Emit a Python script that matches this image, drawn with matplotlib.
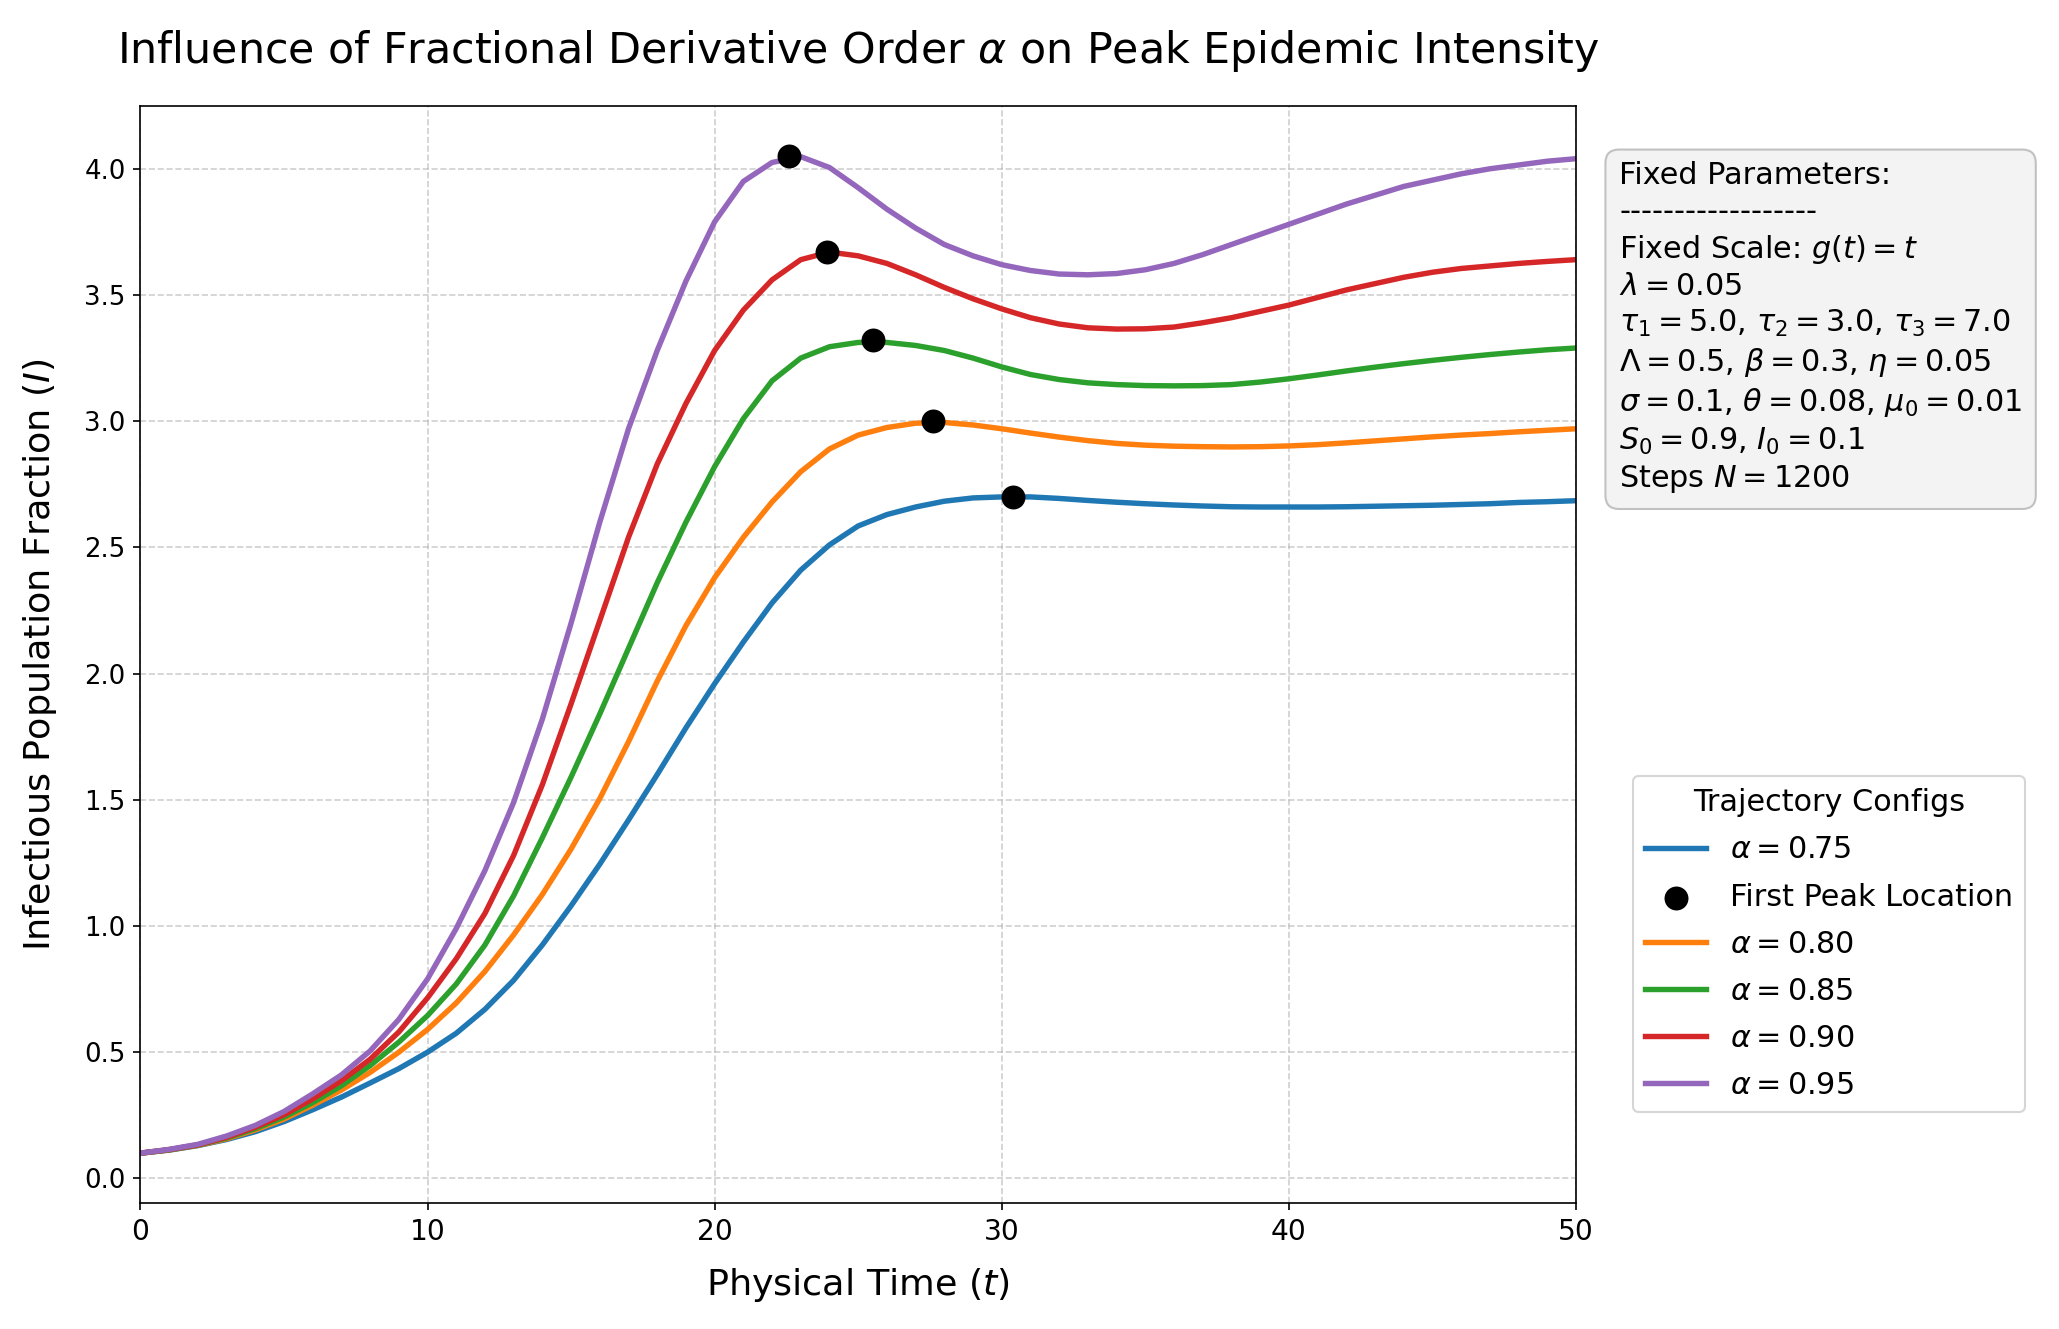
import numpy as np
import matplotlib
matplotlib.use("Agg")
import matplotlib.pyplot as plt

# Physical time grid (t = 0..50)
t = np.arange(0, 51)

alphas = [0.75, 0.80, 0.85, 0.90, 0.95]

I_075 = [0.100, 0.112, 0.130, 0.154, 0.185, 0.225, 0.272, 0.322, 0.378, 0.435,
         0.500, 0.575, 0.670, 0.785, 0.925, 1.080, 1.245, 1.420, 1.600, 1.785,
         1.960, 2.125, 2.280, 2.410, 2.510, 2.585, 2.630, 2.660, 2.683, 2.696,
         2.700, 2.700, 2.694, 2.686, 2.679, 2.673, 2.668, 2.664, 2.661, 2.660,
         2.660, 2.660, 2.661, 2.663, 2.665, 2.667, 2.670, 2.673, 2.678, 2.681,
         2.685]
I_080 = [0.100, 0.113, 0.131, 0.157, 0.192, 0.235, 0.290, 0.350, 0.420, 0.500,
         0.590, 0.695, 0.820, 0.965, 1.125, 1.305, 1.505, 1.730, 1.970, 2.190,
         2.380, 2.540, 2.680, 2.800, 2.890, 2.945, 2.975, 2.992, 2.995, 2.985,
         2.970, 2.953, 2.937, 2.923, 2.912, 2.905, 2.901, 2.899, 2.898, 2.899,
         2.902, 2.907, 2.914, 2.922, 2.930, 2.938, 2.945, 2.951, 2.958, 2.964,
         2.970]
I_085 = [0.100, 0.113, 0.132, 0.160, 0.197, 0.243, 0.300, 0.367, 0.447, 0.540,
         0.645, 0.770, 0.925, 1.120, 1.350, 1.590, 1.840, 2.100, 2.360, 2.600,
         2.820, 3.010, 3.160, 3.250, 3.295, 3.312, 3.312, 3.300, 3.280, 3.250,
         3.215, 3.185, 3.165, 3.152, 3.145, 3.141, 3.140, 3.141, 3.145, 3.155,
         3.168, 3.183, 3.199, 3.214, 3.228, 3.241, 3.253, 3.264, 3.274, 3.283,
         3.290]
I_090 = [0.100, 0.114, 0.133, 0.163, 0.203, 0.252, 0.315, 0.387, 0.472, 0.580,
         0.715, 0.870, 1.050, 1.280, 1.560, 1.880, 2.210, 2.540, 2.830, 3.070,
         3.280, 3.440, 3.560, 3.640, 3.670, 3.655, 3.625, 3.580, 3.530, 3.485,
         3.445, 3.410, 3.385, 3.370, 3.365, 3.366, 3.373, 3.390, 3.410, 3.435,
         3.460, 3.490, 3.520, 3.545, 3.570, 3.590, 3.605, 3.615, 3.625, 3.633,
         3.640]
I_095 = [0.100, 0.115, 0.135, 0.168, 0.210, 0.265, 0.335, 0.410, 0.505, 0.630,
         0.790, 0.990, 1.220, 1.490, 1.820, 2.200, 2.600, 2.970, 3.280, 3.555,
         3.790, 3.950, 4.025, 4.048, 4.005, 3.925, 3.840, 3.765, 3.700, 3.655,
         3.620, 3.597, 3.583, 3.580, 3.585, 3.600, 3.625, 3.660, 3.700, 3.740,
         3.780, 3.820, 3.860, 3.895, 3.930, 3.955, 3.980, 4.000, 4.015, 4.030,
         4.040]
series = [I_075, I_080, I_085, I_090, I_095]

# first peak locations
peak_t = [30.4, 27.6, 25.5, 23.9, 22.6]
peak_I = [2.70, 3.00, 3.32, 3.67, 4.05]

colors = ['#1f77b4', '#ff7f0e', '#2ca02c', '#d62728', '#9467bd']

fig = plt.figure(figsize=(2059 / 150, 1329 / 150), dpi=150)
ax = fig.add_axes([0.0682, 0.0948, 0.6972, 0.8252])

for i, (a, I) in enumerate(zip(alphas, series)):
    ax.plot(t, I, color=colors[i], lw=2.6, label=rf'$\alpha = {a:.2f}$')
    ax.scatter(peak_t[i], peak_I[i], color='black', s=110, zorder=5,
               label='First Peak Location' if i == 0 else None)

ax.set_xlim(0, 50)
ax.set_yticks(np.arange(0, 4.01, 0.5))
ax.tick_params(axis='y', labelsize=12.5)
ax.tick_params(axis='x', labelsize=13.5)
ax.grid(True, linestyle='--', alpha=0.6)
ax.set_xlabel(r'Physical Time ($t$)', fontsize=17.5, labelpad=10)
ax.set_ylabel(r'Infectious Population Fraction ($I$)', fontsize=17.5, labelpad=12)
ax.set_title(r'Influence of Fractional Derivative Order $\alpha$ on Peak Epidemic Intensity',
             fontsize=20.5, pad=21)

params = ("Fixed Parameters:\n"
          "------------------\n"
          "Fixed Scale: $g(t) = t$\n"
          "$\\lambda = 0.05$\n"
          "$\\tau_1 = 5.0$, $\\tau_2 = 3.0$, $\\tau_3 = 7.0$\n"
          "$\\Lambda = 0.5$, $\\beta = 0.3$, $\\eta = 0.05$\n"
          "$\\sigma = 0.1$, $\\theta = 0.08$, $\\mu_0 = 0.01$\n"
          "$S_0 = 0.9$, $I_0 = 0.1$\n"
          "Steps $N = 1200$")
ax.text(1.03, 0.95, params, transform=ax.transAxes, fontsize=14.5, va='top', ha='left',
        linespacing=1.28,
        bbox=dict(boxstyle='round,pad=0.45', facecolor='#f2f2f2', edgecolor='#bbbbbb', alpha=0.9))

ax.legend(title='Trajectory Configs', loc='center left', bbox_to_anchor=(1.04, 0.236),
          borderaxespad=0, fontsize=14.5, title_fontsize=14.5, labelspacing=0.6)

fig.savefig('out.png', dpi=150)
